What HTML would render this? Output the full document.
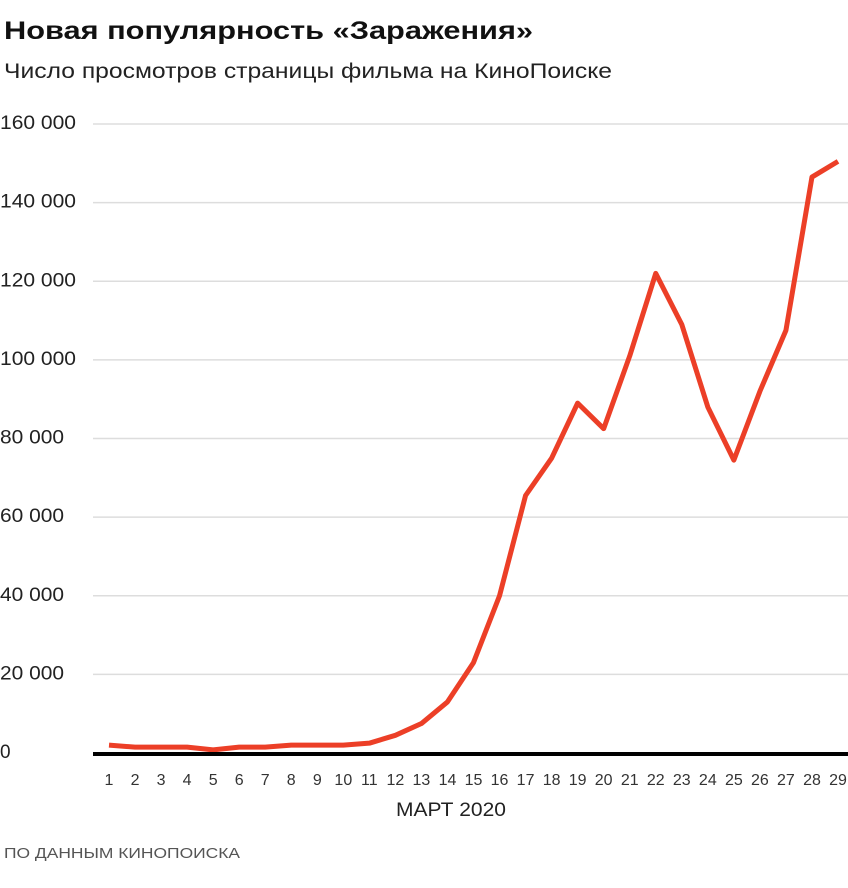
<!DOCTYPE html>
<html><head><meta charset="utf-8"><style>
body{margin:0;background:#fff;width:848px;height:883px;overflow:hidden;font-family:"Liberation Sans",sans-serif}
</style></head><body>
<svg width="848" height="883">
<text x="4" y="39" font-size="25" font-weight="bold" fill="#111" textLength="529" lengthAdjust="spacingAndGlyphs">Новая популярность «Заражения»</text>
<text x="4" y="78" font-size="21" fill="#222" textLength="608" lengthAdjust="spacingAndGlyphs">Число просмотров страницы фильма на КиноПоиске</text>
<g id="grid"></g>
<g id="xlabels"></g>
<polyline id="line" fill="none" stroke="#ec3f27" stroke-width="5" stroke-linejoin="round"/>
<line x1="93" x2="848" y1="754" y2="754" stroke="#000" stroke-width="4"/>
<text x="451" y="816" font-size="19" text-anchor="middle" fill="#222" textLength="110" lengthAdjust="spacingAndGlyphs">МАРТ 2020</text>
<text x="4" y="858" font-size="15" fill="#555" textLength="236" lengthAdjust="spacingAndGlyphs">ПО ДАННЫМ КИНОПОИСКА</text>
</svg>
<script>
const days=[1,2,3,4,5,6,7,8,9,10,11,12,13,14,15,16,17,18,19,20,21,22,23,24,25,26,27,28,29];
const views=[2000,1500,1500,1500,800,1500,1500,2000,2000,2000,2500,4500,7500,13000,23000,40000,65500,75000,89000,82500,101000,122000,109000,88000,74500,92000,107500,146500,150500];
const yTicks=[0,20000,40000,60000,80000,100000,120000,140000,160000];
const yTickLabels=["0","20 000","40 000","60 000","80 000","100 000","120 000","140 000","160 000"];
const ns="http://www.w3.org/2000/svg";
const x=d=>109+(d-1)*(838-109)/28;
const y=v=>753-v*(753-124)/160000;
const grid=document.getElementById('grid');
yTicks.forEach((t,i)=>{
 if(t>0){const l=document.createElementNS(ns,'line');
 l.setAttribute('x1',93);l.setAttribute('x2',848);l.setAttribute('y1',y(t));l.setAttribute('y2',y(t));
 l.setAttribute('stroke','#ddd');l.setAttribute('stroke-width','1.5');
 
 
 grid.appendChild(l);}
 const tx=document.createElementNS(ns,'text');
 tx.setAttribute('x',0);tx.setAttribute('y',y(t)+5);tx.setAttribute('font-size','19');tx.setAttribute('fill','#222');
 tx.textContent=yTickLabels[i];
 const lab=yTickLabels[i];
 if(lab.length>1){tx.setAttribute('textLength',lab.length>6?76:64);tx.setAttribute('lengthAdjust','spacingAndGlyphs');}
 
 
 grid.appendChild(tx);
});
const xl=document.getElementById('xlabels');
days.forEach(d=>{
 const tx=document.createElementNS(ns,'text');
 tx.setAttribute('x',x(d));tx.setAttribute('y',785);tx.setAttribute('font-size','16');tx.setAttribute('fill','#333');tx.setAttribute('text-anchor','middle');
 tx.textContent=d;
 
 
 xl.appendChild(tx);
});
document.getElementById('line').setAttribute('points',days.map((d,i)=>x(d)+','+y(views[i])).join(' '));
</script>
</body></html>
